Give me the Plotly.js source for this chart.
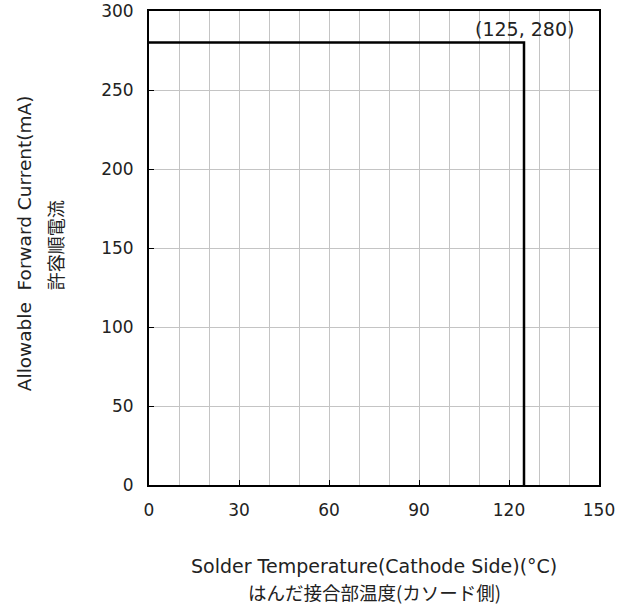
<!DOCTYPE html>
<html>
<head>
<meta charset="utf-8">
<script src="https://cdn.plot.ly/plotly-3.0.1.min.js"></script>
<style>html,body{margin:0;padding:0;background:#fff;}</style>
</head>
<body>
<div id="chart" style="width:630px;height:609px;"></div>
<script>
// Data
var temperature = [0, 125, 125];
var current = [280, 280, 0];
var xTickVals = [0, 30, 60, 90, 120, 150];
var yTickVals = [0, 50, 100, 150, 200, 250, 300];
var cornerPoint = [125, 280];

var FONT = 'DejaVu Sans, Verdana, sans-serif';
var CJK = 'Noto Sans CJK JP, sans-serif';

var trace = {
  x: temperature,
  y: current,
  mode: 'lines',
  line: {color: '#000', width: 2.5},
  hoverinfo: 'none',
  showlegend: false
};

var layout = {
  width: 630, height: 609,
  margin: {l: 149, r: 31, t: 11, b: 124},
  paper_bgcolor: '#fff', plot_bgcolor: '#fff',
  font: {family: FONT, size: 17, color: '#222'},
  xaxis: {
    range: [0, 150],
    tickvals: xTickVals,
    ticks: 'inside', ticklen: 5, tickcolor: '#000', tickwidth: 1,
    showgrid: true, gridcolor: '#c4c4c4', gridwidth: 1,
    minor: {dtick: 10, showgrid: true, gridcolor: '#c4c4c4', gridwidth: 1},
    showline: true, linecolor: '#000', linewidth: 2, mirror: true,
    zeroline: false,
    tickfont: {family: FONT, size: 17, color: '#222'},
    ticklabelstandoff: 9
  },
  yaxis: {
    range: [0, 300],
    tickvals: yTickVals,
    ticks: 'inside', ticklen: 5, tickcolor: '#000', tickwidth: 1,
    showgrid: true, gridcolor: '#c4c4c4', gridwidth: 1,
    showline: true, linecolor: '#000', linewidth: 2, mirror: true,
    zeroline: false,
    tickfont: {family: FONT, size: 17, color: '#222'},
    ticklabelstandoff: 10
  },
  annotations: [
    {
      x: cornerPoint[0], y: cornerPoint[1], xref: 'x', yref: 'y',
      text: '(' + cornerPoint[0] + ', ' + cornerPoint[1] + ')',
      showarrow: false, xanchor: 'center', yanchor: 'middle', yshift: 14,
      font: {family: FONT, size: 19, color: '#222'}
    },
    {
      x: -0.278, y: 0.51, xref: 'paper', yref: 'paper',
      text: 'Allowable&nbsp; Forward Current(mA)', textangle: -90,
      showarrow: false, xanchor: 'center', yanchor: 'middle',
      font: {family: FONT, size: 18.5, color: '#222'}
    },
    {
      x: -0.21, y: 0.505, xref: 'paper', yref: 'paper',
      text: '許容順電流', textangle: -90,
      showarrow: false, xanchor: 'center', yanchor: 'middle',
      font: {family: CJK, size: 18, color: '#222'}
    },
    {
      x: 0.5, y: -0.17, xref: 'paper', yref: 'paper',
      text: 'Solder Temperature(Cathode Side)(°C)',
      showarrow: false, xanchor: 'center', yanchor: 'middle',
      font: {family: FONT, size: 19, color: '#222'}
    },
    {
      x: 0.5, y: -0.225, xref: 'paper', yref: 'paper',
      text: 'はんだ接合部温度(カソード側)',
      showarrow: false, xanchor: 'center', yanchor: 'middle',
      font: {family: CJK, size: 18.5, color: '#222'}
    }
  ]
};

Plotly.newPlot('chart', [trace], layout, {displayModeBar: false, staticPlot: true});
</script>
</body>
</html>
